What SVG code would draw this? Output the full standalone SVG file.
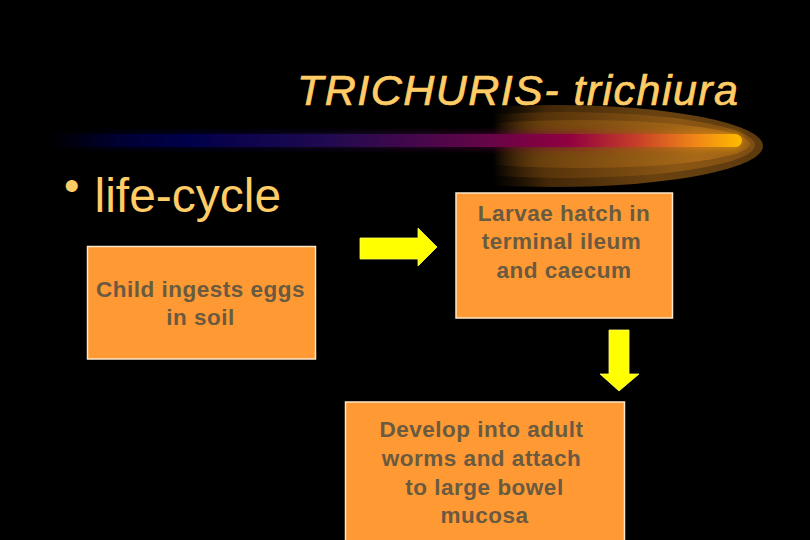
<svg xmlns="http://www.w3.org/2000/svg" width="810" height="540" viewBox="0 0 810 540">
  <defs>
    <style>
      .title { font-family: "Liberation Sans", Arial, sans-serif; font-style: italic; font-size: 43px; fill: #FFCC66; stroke: #FFCC66; stroke-width: 0.7; }
      .bullet { font-family: "Liberation Sans", Arial, sans-serif; fill: #FFCC66; }
      .box { fill: #FF9933; stroke: #FFE8CC; stroke-width: 1.5; }
      .label { font-family: "Liberation Sans", Arial, sans-serif; font-weight: bold; font-size: 22.5px; letter-spacing: 0.5px; fill: #6A5A40; text-anchor: middle; }
      .arrow { fill: #FFFF00; stroke: #FFFF66; stroke-width: 0.8; }
    </style>
    <linearGradient id="barGrad" gradientUnits="userSpaceOnUse" x1="50" y1="0" x2="742" y2="0">
      <stop offset="0" stop-color="#000000"/>
      <stop offset="0.1" stop-color="#000033"/>
      <stop offset="0.2" stop-color="#00004A"/>
      <stop offset="0.4" stop-color="#200A50"/>
      <stop offset="0.6" stop-color="#5A0648"/>
      <stop offset="0.75" stop-color="#900040"/>
      <stop offset="0.85" stop-color="#C84028"/>
      <stop offset="0.93" stop-color="#F08418"/>
      <stop offset="1" stop-color="#FFBB00"/>
    </linearGradient>
    <linearGradient id="glow1" gradientUnits="userSpaceOnUse" x1="493" y1="0" x2="763" y2="0">
      <stop offset="0" stop-color="#3A2206" stop-opacity="0"/>
      <stop offset="0.2" stop-color="#4A2C08" stop-opacity="0.9"/>
      <stop offset="0.6" stop-color="#6A4210"/>
      <stop offset="1" stop-color="#5C3A0E"/>
    </linearGradient>
    <linearGradient id="glow2" gradientUnits="userSpaceOnUse" x1="493" y1="0" x2="755" y2="0">
      <stop offset="0" stop-color="#5A360A" stop-opacity="0"/>
      <stop offset="0.25" stop-color="#5E380C" stop-opacity="0.9"/>
      <stop offset="0.7" stop-color="#8A5614"/>
      <stop offset="1" stop-color="#7E4E12"/>
    </linearGradient>
    <linearGradient id="glow3" gradientUnits="userSpaceOnUse" x1="493" y1="0" x2="748" y2="0">
      <stop offset="0" stop-color="#7A4A10" stop-opacity="0"/>
      <stop offset="0.3" stop-color="#7A4A10" stop-opacity="0.9"/>
      <stop offset="0.8" stop-color="#A86A18"/>
      <stop offset="1" stop-color="#9A6014"/>
    </linearGradient>
    <clipPath id="glowClip">
      <rect x="493" y="90" width="300" height="110"/>
    </clipPath>
    <filter id="soft" x="-5%" y="-100%" width="110%" height="300%">
      <feGaussianBlur stdDeviation="3"/>
    </filter>
  </defs>

  <rect x="0" y="0" width="810" height="540" fill="#000000"/>

  <g id="header">
    <g clip-path="url(#glowClip)">
      <ellipse cx="555" cy="146" rx="208" ry="41" fill="url(#glow1)"/>
      <ellipse cx="565" cy="145" rx="190" ry="33" fill="url(#glow2)"/>
      <ellipse cx="580" cy="144" rx="170" ry="24" fill="url(#glow3)"/>
    </g>
    <rect x="50" y="132" width="692" height="17" rx="8" fill="url(#barGrad)" opacity="0.5" filter="url(#soft)"/>
    <rect x="50" y="134" width="692" height="13" rx="6.5" fill="url(#barGrad)"/>
    <text class="title" x="297" y="105" textLength="441" lengthAdjust="spacing">TRICHURIS- trichiura</text>
  </g>

  <g id="bullet">
    <text class="bullet" x="64" y="201" font-size="44">•</text>
    <text class="bullet" x="94.5" y="212" font-size="48">life-cycle</text>
  </g>

  <g id="connectors">
    <polygon class="arrow" points="360,238 418,238 418,228 437,247 418,266 418,259 360,259"/>
    <polygon class="arrow" points="609,330 629,330 629,374 639,374 619,391 600,374 609,374"/>
  </g>

  <g id="node-ingest">
    <rect class="box" x="87.5" y="246.5" width="228" height="112.5"/>
    <text class="label" x="200.5" y="297">Child ingests eggs</text>
    <text class="label" x="200.5" y="325">in soil</text>
  </g>

  <g id="node-hatch">
    <rect class="box" x="456" y="193" width="216.5" height="125"/>
    <text class="label" x="564" y="220.5">Larvae hatch in</text>
    <text class="label" x="561.5" y="249">terminal ileum</text>
    <text class="label" x="564" y="277.5">and caecum</text>
  </g>

  <g id="node-develop">
    <rect class="box" x="345.5" y="402" width="279" height="150"/>
    <text class="label" x="481.5" y="437">Develop into adult</text>
    <text class="label" x="481.5" y="466">worms and attach</text>
    <text class="label" x="484.5" y="494.5">to large bowel</text>
    <text class="label" x="484.5" y="523">mucosa</text>
  </g>
</svg>
